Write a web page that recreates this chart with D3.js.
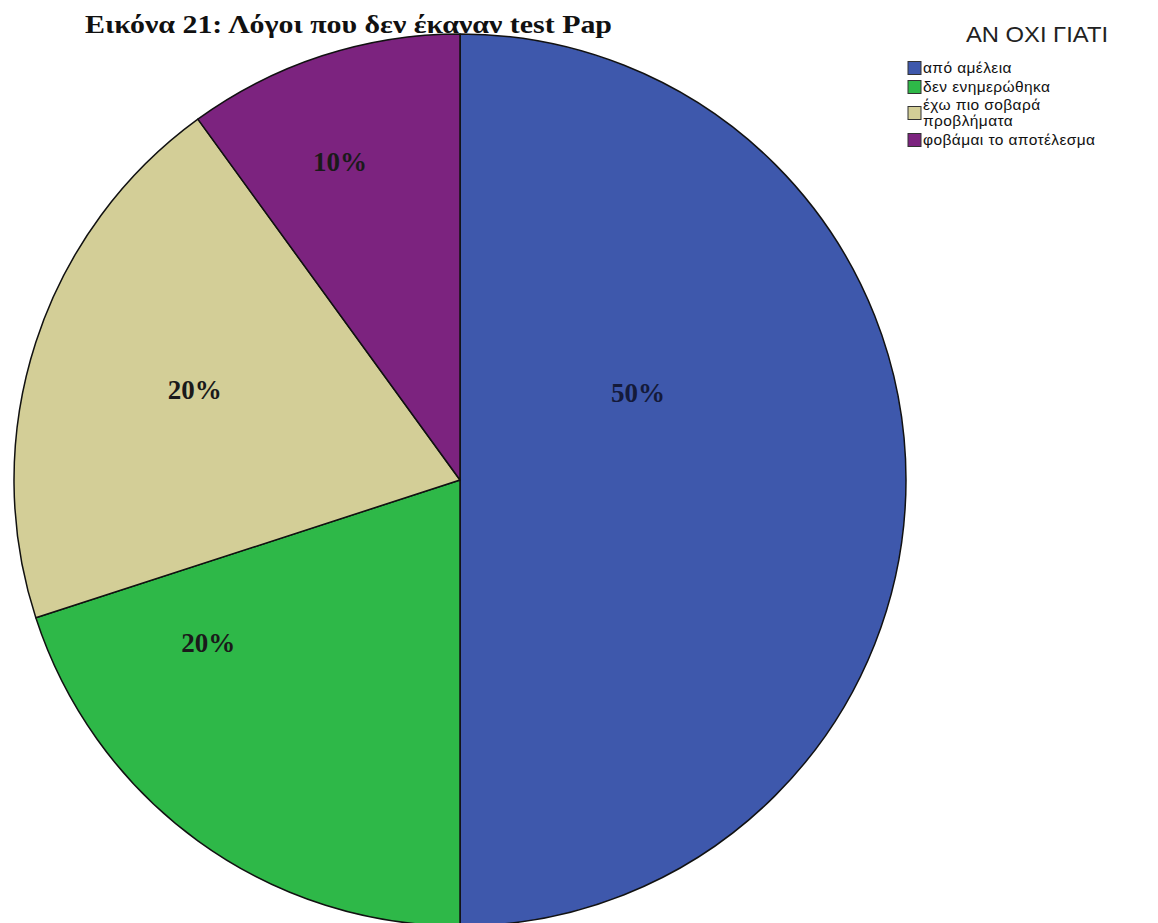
<!DOCTYPE html>
<html><head><meta charset="utf-8">
<script src="https://cdn.jsdelivr.net/npm/d3@7"></script>
<style>html,body{margin:0;padding:0;background:#fff;}svg{display:block;}</style>
</head><body>
<svg id="chart" width="1158" height="923"></svg>
<script>
const categories = ["από αμέλεια", "δεν ενημερώθηκα", "έχω πιο σοβαρά προβλήματα", "φοβάμαι το αποτέλεσμα"];
const legendLines = [["από αμέλεια"], ["δεν ενημερώθηκα"], ["έχω πιο σοβαρά", "προβλήματα"], ["φοβάμαι το αποτέλεσμα"]];
const percents = [50, 20, 20, 10];
const colors = ["#3e58ac", "#2eb848", "#d3ce97", "#7c237f"];
const titleText = "Εικόνα 21: Λόγοι που δεν έκαναν test Pap";
const legendTitle = "ΑΝ ΟΧΙ ΓΙΑΤΙ";

const svg = d3.select("#chart");
const cx = 460, cy = 480, r = 446;

const pie = d3.pie().sort(null).value(d => d)(percents);
const arc = d3.arc().innerRadius(0).outerRadius(r);

const g = svg.append("g").attr("transform", `translate(${cx},${cy})`);
g.selectAll("path").data(pie).join("path")
  .attr("d", arc)
  .attr("fill", (d, i) => colors[i])
  .attr("stroke", "#111")
  .attr("stroke-width", 1.5)
  .attr("stroke-linejoin", "round");

// label placement (layout): polar offsets, as fractions of r
const labelLayout = [
  {ang: 64.0, rad: 0.444},
  {ang: 237.1, rad: 0.672},
  {ang: 288.8, rad: 0.628},
  {ang: 339.3, rad: 0.762}
];
const fmt = d => d + "%";
g.selectAll("text.lbl").data(pie).join("text")
  .attr("class", "lbl")
  .attr("x", (d, i) => Math.sin(labelLayout[i].ang * Math.PI / 180) * labelLayout[i].rad * r)
  .attr("y", (d, i) => -Math.cos(labelLayout[i].ang * Math.PI / 180) * labelLayout[i].rad * r)
  .attr("text-anchor", "middle")
  .attr("dominant-baseline", "central")
  .attr("font-family", "'Liberation Serif','Times New Roman',serif")
  .attr("font-weight", "bold")
  .attr("font-size", 27)
  .attr("fill", (d, i) => i === 0 ? "#141a3a" : "#1a1a1a")
  .text(d => fmt(d.data));

// title
svg.append("text")
  .attr("x", 85).attr("y", 33)
  .attr("font-family", "'Liberation Serif','Times New Roman',serif")
  .attr("font-weight", "bold")
  .attr("font-size", 26)
  .attr("fill", "#111")
  .attr("textLength", 527)
  .attr("lengthAdjust", "spacingAndGlyphs")
  .text(titleText);

// legend
const lg = svg.append("g");
lg.append("text")
  .attr("x", 1037).attr("y", 42)
  .attr("text-anchor", "middle")
  .attr("font-family", "'Liberation Sans',Arial,sans-serif")
  .attr("font-size", 22)
  .attr("fill", "#222")
  .attr("textLength", 142)
  .attr("lengthAdjust", "spacingAndGlyphs")
  .text(legendTitle);

const rowY = [68, 87, 113, 140];
const items = lg.selectAll("g.item").data(categories).join("g").attr("class", "item")
  .attr("transform", (d, i) => `translate(908,${rowY[i]})`);
items.append("rect")
  .attr("x", 0).attr("y", -6.5).attr("width", 13).attr("height", 13)
  .attr("fill", (d, i) => colors[i])
  .attr("stroke", "#333").attr("stroke-width", 1);
items.each(function(d, i) {
  const lines = legendLines[i];
  const t = d3.select(this).append("text")
    .attr("font-family", "'Liberation Sans',Arial,sans-serif")
    .attr("font-size", 15.5)
    .attr("letter-spacing", 0.4)
    .attr("fill", "#111");
  lines.forEach((ln, j) => {
    t.append("tspan").attr("x", 15)
      .attr("y", (j - (lines.length - 1) / 2) * 16)
      .attr("dy", "0.35em")
      .text(ln);
  });
});
</script>
</body></html>
